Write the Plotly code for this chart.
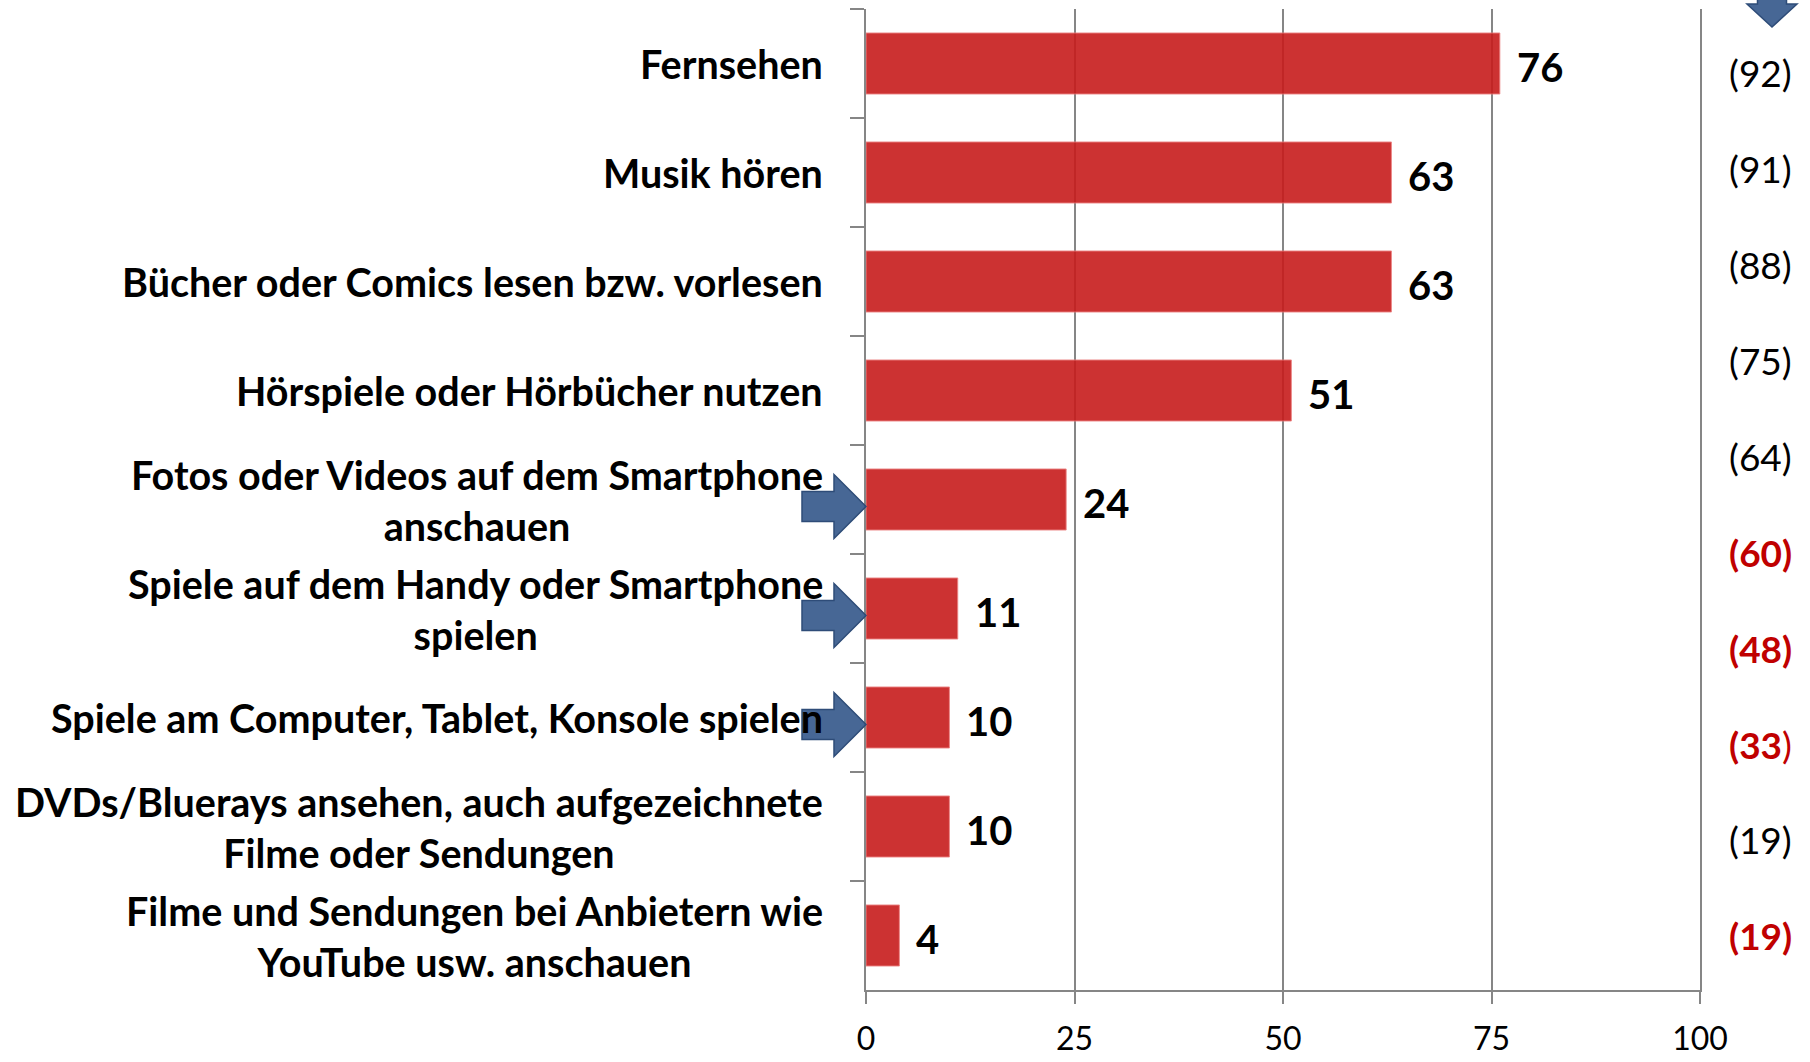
import plotly.graph_objects as go

# ---------------- data ----------------
categories = [
    "Fernsehen",
    "Musik hören",
    "Bücher oder Comics lesen bzw. vorlesen",
    "Hörspiele oder Hörbücher nutzen",
    "Fotos oder Videos auf dem Smartphone<br>anschauen",
    "Spiele auf dem Handy oder Smartphone<br>spielen",
    "Spiele am Computer, Tablet, Konsole spielen",
    "DVDs/Bluerays ansehen, auch aufgezeichnete<br>Filme oder Sendungen",
    "Filme und Sendungen bei Anbietern wie<br>YouTube usw. anschauen",
]
values = [76, 63, 63, 51, 24, 11, 10, 10, 4]
arrow_rows = [4, 5, 6]  # categories marked with an arrow

right_values = ["(92)", "(91)", "(88)", "(75)", "(64)", "(60)", "(48)", "(33)", "(19)", "(19)"]
right_highlight = [False, False, False, False, False, True, True, True, False, True]

x_ticks = [0, 25, 50, 75, 100]

# ---------------- layout geometry (pixels) ----------------
W, H = 1810, 1062
L, T = 866, 9
PR, PB = 1700, 990   # plot right / bottom edges
R = W - PR
B = H - PB
PW = PR - L
PH = PB - T
n = len(categories)
band = PH / n

FONT = "Lato"
GRAY = "#868686"
BAR = "rgb(199,28,28)"
ARROW_FILL = "rgba(55,90,140,0.92)"
ARROW_LINE = "#2E4C78"
RED_TXT = "#C00000"


def px(xp, yp):
    """page pixel -> paper coords"""
    return (xp - L) / PW, 1 - (yp - T) / PH


def path(points):
    s = ""
    for i, (a, b) in enumerate(points):
        xx, yy = px(a, b)
        s += ("M" if i == 0 else "L") + f"{xx:.5f},{yy:.5f} "
    return s + "Z"


fig = go.Figure()
fig.add_trace(go.Bar(
    x=values,
    y=categories,
    orientation="h",
    marker=dict(color=BAR, opacity=0.9, line=dict(color="rgba(235,120,120,0.9)", width=1)),
    hoverinfo="x+y",
    showlegend=False,
))

annotations = []
# value labels
for c, v in zip(categories, values):
    annotations.append(dict(
        x=v, y=c, xref="x", yref="y", text=f"<b>{v}</b>", showarrow=False,
        xanchor="left", yanchor="middle", xshift=15, yshift=-3,
        font=dict(family=FONT, size=40, color="black"),
    ))
# category labels
for i, c in enumerate(categories):
    xx, yy = px(825, T + band * (i + 0.5))
    annotations.append(dict(
        x=xx, y=yy, xref="paper", yref="paper", text=f"<b>{c}</b>", showarrow=False,
        xanchor="right", yanchor="middle", align="center",
        font=dict(family=FONT, size=39.5, color="black"),
    ))
# right column
r_start, r_step = 72.7, 95.9
for i, (t, hl) in enumerate(zip(right_values, right_highlight)):
    xx, yy = px(1760, r_start + r_step * i)
    if hl:
        txt = "<b>(33</b>)" if t == "(33)" else f"<b>{t}</b>"
        col = RED_TXT
    else:
        txt = t
        col = "black"
    annotations.append(dict(
        x=xx, y=yy, xref="paper", yref="paper", text=txt, showarrow=False,
        xanchor="center", yanchor="middle",
        font=dict(family=FONT, size=37, color=col),
    ))

shapes = []
# left arrows
for r in arrow_rows:
    yc = T + band * (r + 0.5) + 7
    tip = L
    pts = [
        (tip - 64, yc - 15), (tip - 32, yc - 15), (tip - 32, yc - 32), (tip, yc),
        (tip - 32, yc + 32), (tip - 32, yc + 15), (tip - 64, yc + 15),
    ]
    shapes.append(dict(type="path", path=path(pts), xref="paper", yref="paper",
                       fillcolor=ARROW_FILL, line=dict(color=ARROW_LINE, width=1.5),
                       layer="above"))
# top-right down arrow (cut off by the top edge)
cx, tipy = 1772, 27
pts = [
    (cx - 14.5, -30), (cx + 14.5, -30), (cx + 14.5, 4), (cx + 25, 4), (cx, tipy),
    (cx - 25, 4), (cx - 14.5, 4),
]
shapes.append(dict(type="path", path=path(pts), xref="paper", yref="paper",
                   fillcolor=ARROW_FILL, line=dict(color=ARROW_LINE, width=1.5), layer="above"))

fig.update_layout(
    width=W, height=H,
    margin=dict(l=L, r=R, t=T, b=B, pad=0, autoexpand=False),
    paper_bgcolor="white", plot_bgcolor="white",
    bargap=0.44,
    annotations=annotations,
    shapes=shapes,
    xaxis=dict(
        range=[0, 100], tickvals=x_ticks, ticktext=[str(t) for t in x_ticks],
        showgrid=True, gridcolor=GRAY, gridwidth=1.5,
        showline=True, linecolor=GRAY, linewidth=2,
        ticks="outside", ticklen=12, tickcolor=GRAY, tickwidth=2,
        ticklabelstandoff=8,
        zeroline=False, automargin=False,
        tickfont=dict(family=FONT, size=32, color="black"),
        fixedrange=True,
    ),
    yaxis=dict(
        type="category", categoryorder="array", categoryarray=categories,
        range=[n - 0.5, -0.5],
        showticklabels=False,
        showline=True, mirror=True, linecolor=GRAY, linewidth=2,
        ticks="outside", tickson="boundaries", ticklen=14, tickcolor=GRAY, tickwidth=2,
        showgrid=False, zeroline=False, automargin=False,
        fixedrange=True,
    ),
)

fig.write_html("out.html", config={"displayModeBar": False},
               post_script="document.body.style.margin='0';")
